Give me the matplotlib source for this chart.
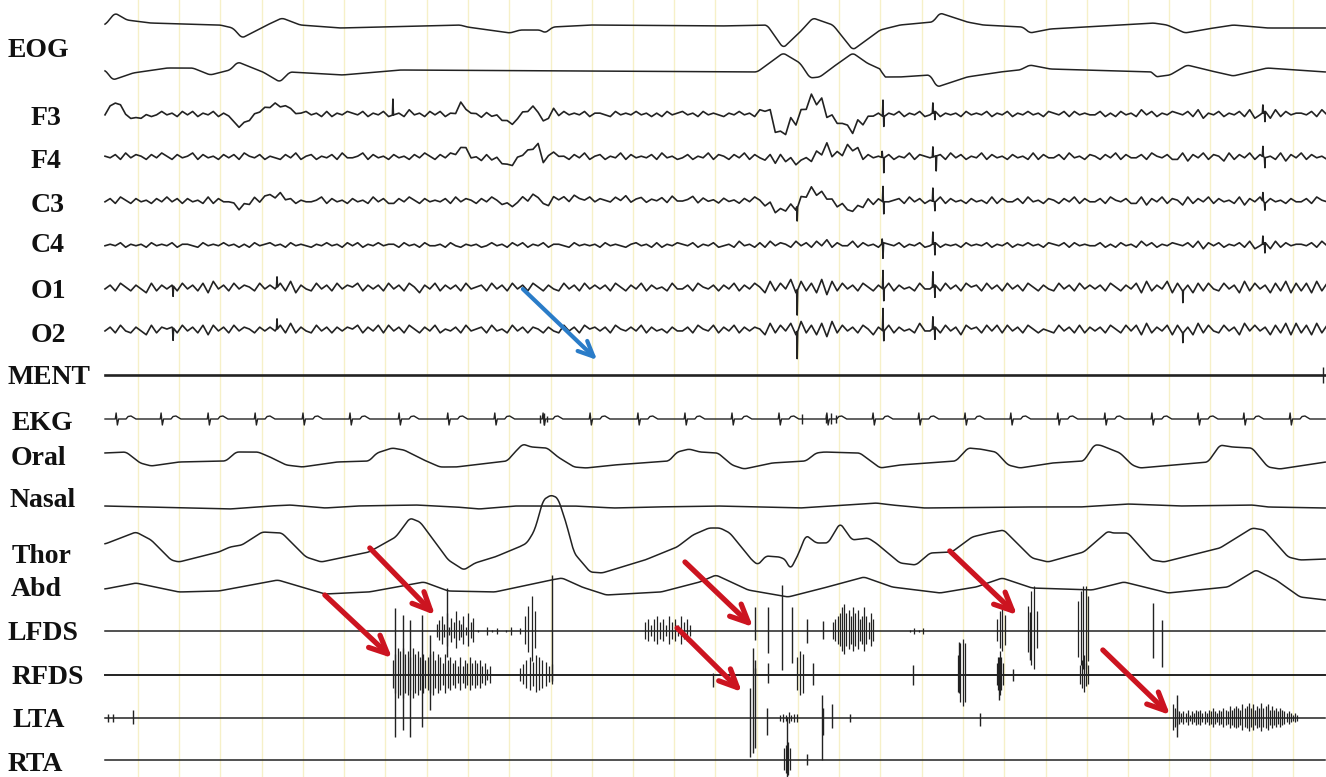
import numpy as np
import matplotlib
matplotlib.use("Agg")
import matplotlib.pyplot as plt

# page geometry: 1 s of record = 41.25 px, trace starts at px 105
PX_PER_S = 41.25
X0 = 105
T_END = 29.58
EEG_STEP = 0.125
INK = "#222222"

# ---------------- slow channels: (time s, amplitude px, up = +) ----------------
eog1_t = [0.00, 0.24, 0.53, 1.09, 2.79, 3.10, 3.32, 3.93, 4.29, 4.73, 5.70, 8.61, 8.78, 9.82,
          10.06, 10.55, 10.67, 10.86, 11.76, 14.91, 16.05, 16.44, 16.85, 17.16, 17.65, 18.13,
          18.79, 19.27, 20.07, 20.24, 20.90, 21.28, 22.25, 22.42, 22.91, 25.41, 25.75, 26.18,
          26.72, 27.35, 28.17, 29.58]
eog1_a = [0, 12, 5, 2, 0, -3, -13, 0, 7, 0, -3, 0, -2, -8, -5, -5, -8, -2, 0, -1, 0, -23, -7,
          7, 0, -25, -5, 0, 3, 12, 3, 0, -2, -8, -4, 2, 0, -8, -4, 0, -3, -3]

eog2_t = [0.00, 0.19, 0.68, 1.50, 2.13, 2.55, 3.03, 3.22, 3.83, 4.24, 4.48, 5.75, 7.15, 15.81,
          16.44, 16.85, 17.09, 17.33, 17.65, 18.13, 18.47, 18.84, 18.86, 19.27, 20.00, 20.17,
          20.90, 21.70, 22.18, 22.42, 22.91, 25.41, 25.45, 25.82, 26.23, 26.72, 27.35, 28.17,
          29.58]
eog2_a = [2, -8, -1, 4, 4, -3, 2, 10, 0, -10, 0, -3, 2, 0, 19, 9, -6, -5, 5, 19, 9, 2, -5, -5,
          -3, -15, -5, 0, 2, 7, 3, 0, -5, -3, 7, 2, -4, 4, 0]

oral_t = [0.00, 0.51, 0.85, 1.12, 1.79, 2.93, 3.18, 3.71, 4.00, 4.39, 4.78, 5.62, 6.40, 6.59,
          6.96, 7.25, 7.73, 8.12, 8.51, 9.75, 9.94, 10.13, 10.33, 10.72, 10.98, 11.37, 11.66,
          12.34, 13.67, 13.87, 14.16, 14.42, 14.86, 15.20, 15.49, 16.17, 16.99, 17.24, 17.43,
          18.30, 18.79, 19.27, 20.63, 20.92, 21.21, 21.60, 21.89, 22.18, 22.96, 23.73, 23.98,
          24.12, 24.61, 24.90, 25.09, 26.74, 27.03, 27.32, 27.81, 28.19, 28.48, 29.58]
oral_a = [9, 10, -1, -4, 0, 1, 10, 10, 5, -3, -5, 0, 1, 9, 14, 12, 2, -5, -5, 1, 10, 18, 15, 14,
          5, -5, -6, -3, 1, 10, 13, 10, 9, -3, -7, -1, 1, 9, 10, 9, -6, -3, 1, 14, 13, 10, -3,
          -6, -1, 1, 17, 17, 9, -3, -6, 0, 17, 15, 14, -5, -7, 0]

nasal_t = [0.00, 3.03, 4.00, 4.48, 5.33, 6.11, 7.54, 8.51, 9.07, 9.94, 11.37, 12.34, 13.28,
           14.84, 15.88, 16.85, 18.69, 19.08, 19.85, 22.18, 23.64, 24.80, 26.06, 27.81, 28.19,
           29.58]
nasal_a = [0, -3, 0, 1, -2, 0, 1, -1, -3, 0, 0, -2, -1, 0, -1, -2, 3, 1, -2, -1, -1, 2, 0, 1,
           -1, -2]

thor_t = [0.00, 0.75, 1.12, 1.60, 1.79, 2.76, 3.03, 3.32, 3.81, 4.29, 4.87, 5.24, 6.40, 7.05,
          7.39, 7.64, 8.02, 8.32, 8.70, 8.97, 9.45, 10.04, 10.23, 10.42, 10.62, 10.81, 10.98,
          11.18, 11.37, 11.76, 12.05, 13.09, 13.87, 14.25, 14.64, 14.91, 15.15, 15.68, 15.83,
          16.02, 16.36, 16.51, 16.61, 16.80, 16.99, 17.24, 17.53, 17.82, 18.11, 18.50, 18.69,
          19.27, 19.66, 20.00, 20.53, 21.02, 21.41, 21.79, 22.47, 22.86, 23.73, 24.32, 24.41,
          24.80, 25.38, 25.67, 27.03, 27.81, 28.10, 28.68, 28.97, 29.58]
thor_a = [1, 13, 5, -15, -17, -7, -2, 0, 13, 12, -12, -17, -7, 8, 27, 23, 2, -15, -25, -18, -12,
          -2, 2, 15, 45, 50, 47, 22, -8, -27, -28, -15, -2, 10, 17, 17, 12, -15, -20, -11, -12,
          -15, -25, -10, 10, 2, 2, 22, 5, 7, 2, -18, -20, -8, -7, 8, 12, 15, -13, -17, -7, 14,
          12, 12, -15, -17, -3, 17, 15, -12, -15, -14]

abd_t = [0.00, 0.75, 1.79, 2.76, 4.19, 4.68, 5.33, 6.40, 7.73, 8.32, 9.45, 10.81, 11.08, 11.56,
         12.15, 13.48, 14.42, 14.81, 15.59, 16.56, 17.33, 18.40, 19.08, 20.24, 21.12, 21.75,
         22.47, 23.93, 24.70, 25.77, 27.22, 27.90, 28.39, 28.97, 29.58]
abd_a = [-2, 4, -5, -4, 7, 1, -7, -5, 5, -4, -5, 7, 9, 0, -8, -5, 5, 12, -3, -10, -2, 10, 0, -6,
         0, 9, -1, -3, 5, -6, 0, 17, 7, -10, -13]

# ---------------- EEG: fast activity (one digit per 0.125 s), slow drift, spikes ----------------
f3_fast = ("45364354 53464536 46354635 54364545 36454356 45363546 54635463 45374536 "
           "46354645 53645364 45463545 36454635 54364546 45353645 64536454 35464537 "
           "48172916 29381746 72836453 54635463 46354536 45463546 35464536 54636454 "
           "46353645 37463546 54637254 63546372 46273645 54637456")
f4_fast = ("54637465 36475364 57364536 46375463 54364735 63546374 45736453 64536475 "
           "36475364 53746354 64537463 45364735 63547364 54637453 46354736 53647364 "
           "37284736 62739274 81736454 63547365 45637463 54736453 64537364 46374536 "
           "53647364 46375463 37264736 52736473 64537264 73645364")
c3_fast = ("46375364 53647463 64537364 45364736 63746354 45736453 64537463 36475364 "
           "54637465 36475364 57364536 46375463 54364735 63546374 45736453 64536475 "
           "37264837 28374637 54637364 45637463 54736453 64537364 46374536 53647364 "
           "46375463 37264736 52736473 64537264 73645364 46375463")
c4_fast = ("45463545 36454635 54364546 45353645 64536454 35464536 46354645 53645364 "
           "45364354 53464536 46354635 54364545 36454356 45363546 54635463 45374536 "
           "37465374 63748364 47364536 54635463 46354536 45463546 35464536 54636454 "
           "46353645 37463546 54637264 63546372 46273645 54637456")
o1_fast = ("46375364 27364637 46372846 37465374 64738264 37463746 57364637 46375264 "
           "73646374 56374637 46375364 37463746 46375364 73645374 46375463 64736475 "
           "28374928 37291837 46375364 73645374 46374637 56374637 46375364 37463746 "
           "46375364 72836482 73627374 37462837 46273827 37283746")
o2_fast = ("46374364 27365637 46372746 37465364 64738364 37463646 57364737 46375364 "
           "73546374 56374537 46365364 37463756 46375464 73645364 46375473 64736465 "
           "28374829 37281937 46375264 73645384 46374627 56374737 46375354 37463736 "
           "46375374 72836472 73628374 37462847 46273828 37283756")

f3_slow_t = [0.00, 0.24, 0.48, 0.78, 1.09, 2.91, 3.32, 3.64, 4.00, 4.48, 4.73, 8.48, 8.65, 8.85,
             9.58, 9.82, 10.11, 10.47, 10.67, 10.84, 11.03, 15.88, 16.05, 16.36, 16.68, 17.02,
             17.16, 17.38, 17.62, 18.06, 18.35, 18.67, 29.58]
f3_slow_a = [0, 14, 1, -5, 0, 0, -13, 0, 9, 7, 0, 0, 11, 0, -2, -12, 1, 7, -12, 6, 0, 0, 5, -22,
             -9, 10, 13, 10, -5, -17, -9, 0, 0]
f4_slow_t = [0.00, 8.48, 8.65, 8.85, 9.58, 9.82, 10.11, 10.47, 10.67, 10.84, 11.03, 15.88, 16.85,
             17.50, 17.82, 18.13, 18.35, 29.58]
f4_slow_a = [0, 0, 14, 0, -3, -10, 2, 13, -10, 9, 0, 0, -6, 7, 0, 12, 0, 0]
c3_slow_t = [0.00, 3.03, 3.27, 3.64, 4.17, 4.48, 9.58, 9.82, 10.11, 10.47, 10.67, 10.84, 15.88,
             16.36, 16.73, 17.02, 17.28, 17.65, 18.06, 18.47, 18.79, 29.58]
c3_slow_a = [0, 0, -7, 0, 6, 0, 0, -6, 0, 6, -6, 2, 0, -10, -8, 9, 8, -1, -11, -2, 0, 0]
flat_t = [0.00, 29.58]
flat_a = [0, 0]

f3_spikes = [(6.98, 16), (18.86, 16), (18.88, -10), (20.07, 10), (20.12, -8), (28.07, 8), (28.12, -10)]
f4_spikes = [(18.84, 6), (18.88, -15), (20.07, 10), (20.15, -15), (28.07, 10), (28.12, -10)]
c3_spikes = [(16.78, -14), (18.86, 15), (18.88, -12), (20.07, 13), (20.12, -9), (28.07, 8), (28.12, -7)]
c4_spikes = [(18.84, 5), (18.86, -15), (20.07, 12), (20.12, -12), (28.07, 8), (28.12, -10)]
o1_spikes = [(1.65, -10), (4.17, 10), (16.78, -25), (18.86, 18), (18.88, -12), (20.07, 15),
             (20.12, -12), (26.13, -12)]
o2_spikes = [(1.65, -12), (4.17, 10), (16.78, -27), (18.86, 22), (18.88, -10), (20.07, 12),
             (20.12, -12), (26.13, -10)]

# ---------------- EKG ----------------
ekg_beats = [0.27, 1.36, 2.50, 3.64, 4.80, 5.94, 7.13, 8.31, 9.45, 10.62, 11.76, 12.92, 14.06,
             15.20, 16.34, 17.50, 18.62, 19.73, 20.85, 21.96, 23.10, 24.24, 25.38, 26.50, 27.61,
             28.73]
ekg_shape_t = [-0.05, -0.02, 0.00, 0.03, 0.06, 0.10, 0.24, 0.29, 0.36, 0.42, 0.48]
ekg_shape_a = [0, 0, 6, -6, 0, 0, 0, 2.5, 3, 1.5, 0]
ekg_extra = [(10.55, 4, 4), (10.65, 6, 6), (10.72, 3, 3), (16.90, 5, 5), (17.48, 5, 4),
             (17.60, 6, 5), (17.72, 4, 4)]

# ---------------- EMG bursts: (start s, end s, scale, spike heights) ----------------
lfds_bursts = [(8.05, 8.92, 2.2, "3573826495372846"), (9.04, 10.06, 1.5, "1031201302"),
               (10.18, 10.42, 5, "3574"), (13.09, 14.18, 3, "3424534253425342"),
               (17.65, 18.62, 3, "3456896758674585364"), (19.52, 19.83, 1.5, "1212"),
               (21.62, 21.82, 4, "3564"), (22.38, 22.59, 5, "5894"), (23.59, 23.83, 5, "68997")]
lfds_single = [(8.29, 43, 26), (10.84, 56, 50), (15.76, 24, 9), (16.07, 24, 22), (16.41, 46, 39),
               (16.65, 24, 32), (17.02, 12, 12), (17.41, 10, 8), (22.42, 19, 29), (25.41, 28, 27),
               (25.62, 11, 36)]
rfds_bursts = [(6.98, 9.33, 3, "5798978697867567857647564536354645453423"),
               (10.06, 10.84, 2.2, "35786987645"), (16.78, 16.92, 3, "687"),
               (20.68, 20.85, 4, "5898"), (21.62, 21.77, 3, "46864"), (23.64, 23.83, 2.5, "46854")]
rfds_single = [(7.03, 67, 62), (7.22, 60, 55), (7.39, 55, 62), (7.68, 60, 52), (7.88, 40, 35),
               (14.74, 2, 12), (15.76, 15, 0), (16.07, 12, 8), (17.16, 12, 10), (19.59, 10, 10),
               (20.70, 33, 18), (21.67, 18, 25), (22.01, 6, 6)]
lta_bursts = [(16.36, 16.78, 1.5, "2324233"),
              (25.89, 28.90, 1.7, "865434352435453435464354654756765867968576967857564654343232")]
lta_single = [(0.07, 4, 4), (0.19, 4, 4), (0.68, 8, 6), (15.64, 30, 39), (15.71, 70, 35),
              (15.76, 50, 30), (16.05, 10, 17), (17.38, 23, 42), (17.41, 10, 17), (17.62, 14, 10),
              (18.06, 4, 4), (21.21, 5, 8), (26.00, 23, 19)]
rta_bursts = [(16.45, 16.60, 3, "4564")]
rta_single = [(16.53, 43, 17), (17.02, 6, 5)]

# baselines (px from top) and labels
base = {"EOG1": 25, "EOG2": 72, "F3": 114, "F4": 157, "C3": 201, "C4": 245, "O1": 288,
        "O2": 330, "MENT": 375, "EKG": 419, "Oral": 462, "Nasal": 506, "Thor": 545,
        "Abd": 587, "LFDS": 631, "RFDS": 675, "LTA": 718, "RTA": 760}
labels = [("EOG", 8, 57), ("F3", 31, 125), ("F4", 31, 168), ("C3", 31, 212), ("C4", 31, 252),
          ("O1", 31, 298), ("O2", 31, 342), ("MENT", 8, 384), ("EKG", 12, 430), ("Oral", 11, 465),
          ("Nasal", 10, 507), ("Thor", 12, 563), ("Abd", 11, 596), ("LFDS", 8, 640),
          ("RFDS", 12, 684), ("LTA", 12, 727), ("RTA", 8, 771)]

red_arrows = [((6.42, 548), (8.00, 615)), ((5.33, 595), (6.96, 658)), ((14.06, 562), (15.71, 627)),
              ((13.87, 628), (15.44, 692)), ((20.48, 551), (22.11, 615)), ((24.19, 650), (25.82, 715))]
blue_arrow = ((10.13, 289), (11.93, 360))


fig = plt.figure(figsize=(13.26, 7.77), dpi=100)
ax = fig.add_axes([0, 0, 1, 1])
ax.axis("off")
ax.set_xlim(-X0 / PX_PER_S, (1326 - X0) / PX_PER_S)
ax.set_ylim(777, 0)

# 1 s grid
for k in range(29):
    ax.axvline(0.8 + k, color="#f6f0c8", lw=1.0, zorder=0)


def slow(t, a, b, lw=1.1):
    # draw the read-off vertices with a light rounding of the corners
    tt = np.arange(0, T_END + 1e-9, 0.02)
    yy = np.interp(tt, t, a)
    w = 7
    k = np.ones(w) / w
    pad = np.concatenate([np.full(w, yy[0]), yy, np.full(w, yy[-1])])
    yy = np.convolve(pad, k, mode="same")[w:-w]
    ax.plot(tt, b - yy, color=INK, lw=lw, zorder=2)


def eeg(fast, gain, st, sa, spikes, b):
    vals = np.array([int(c) for c in fast.replace(" ", "")], float)
    tt = np.arange(len(vals)) * EEG_STEP
    yy = (vals - 4.5) * gain + np.interp(tt, st, sa)
    sp_t, sp_y = [], []
    for ts, amp in spikes:
        y0 = np.interp(ts, tt, yy)
        sp_t += [ts - 0.012, ts, ts + 0.012]
        sp_y += [y0, y0 + amp, y0]
    tt = np.concatenate([tt, sp_t])
    yy = np.concatenate([yy, sp_y])
    order = np.argsort(tt, kind="stable")
    ax.plot(tt[order], b - yy[order], color=INK, lw=1.2, zorder=2)


def emg(b, bursts, singles, lw=1.1):
    ax.plot([0, T_END], [b, b], color=INK, lw=lw, zorder=2)
    for t0, t1, sc, digits in bursts:
        h = np.array([int(c) for c in digits], float) * sc
        ts = np.linspace(t0, t1, len(h))
        ax.vlines(ts, b - h, b + 0.85 * h, color=INK, lw=0.9, zorder=2)
    for ts, up, dn in singles:
        ax.vlines(ts, b - up, b + dn, color=INK, lw=1.0, zorder=2)


slow(eog1_t, eog1_a, base["EOG1"])
slow(eog2_t, eog2_a, base["EOG2"])
eeg(f3_fast, 1.7, f3_slow_t, f3_slow_a, f3_spikes, base["F3"])
eeg(f4_fast, 1.6, f4_slow_t, f4_slow_a, f4_spikes, base["F4"])
eeg(c3_fast, 1.6, c3_slow_t, c3_slow_a, c3_spikes, base["C3"])
eeg(c4_fast, 1.5, flat_t, flat_a, c4_spikes, base["C4"])
eeg(o1_fast, 1.9, flat_t, flat_a, o1_spikes, base["O1"])
eeg(o2_fast, 1.9, flat_t, flat_a, o2_spikes, base["O2"])

# MENT
emg(base["MENT"], [], [(29.52, 8, 8)], lw=1.9)

# EKG
et, ea = [0.0, T_END], [0.0, 0.0]
for tb in ekg_beats:
    et += [tb + d for d in ekg_shape_t]
    ea += ekg_shape_a
order = np.argsort(et)
ax.plot(np.array(et)[order], base["EKG"] - np.array(ea)[order], color=INK, lw=1.0, zorder=2)
for ts, up, dn in ekg_extra:
    ax.vlines(ts, base["EKG"] - up, base["EKG"] + dn, color=INK, lw=1.0)

slow(oral_t, oral_a, base["Oral"])
slow(nasal_t, nasal_a, base["Nasal"])
slow(thor_t, thor_a, base["Thor"])
slow(abd_t, abd_a, base["Abd"])

emg(base["LFDS"], lfds_bursts, lfds_single)
emg(base["RFDS"], rfds_bursts, rfds_single, lw=1.4)
emg(base["LTA"], lta_bursts, lta_single)
emg(base["RTA"], rta_bursts, rta_single)

for s, x, y in labels:
    fig.text(x / 1326, 1 - y / 777, s, fontsize=20, fontweight="bold",
             family="Liberation Serif", ha="left", va="baseline", color="#111111")

for (t0, y0), (t1, y1) in red_arrows:
    ax.annotate("", xy=(t1, y1), xytext=(t0, y0),
                arrowprops=dict(arrowstyle="->,head_length=1.3,head_width=0.6",
                                color="#cc1420", lw=3.8, shrinkA=0, shrinkB=0), zorder=5)
(t0, y0), (t1, y1) = blue_arrow
ax.annotate("", xy=(t1, y1), xytext=(t0, y0),
            arrowprops=dict(arrowstyle="->,head_length=1.1,head_width=0.5",
                            color="#2a7cc8", lw=3.0, shrinkA=0, shrinkB=0), zorder=5)

fig.savefig("out.png", dpi=100)
